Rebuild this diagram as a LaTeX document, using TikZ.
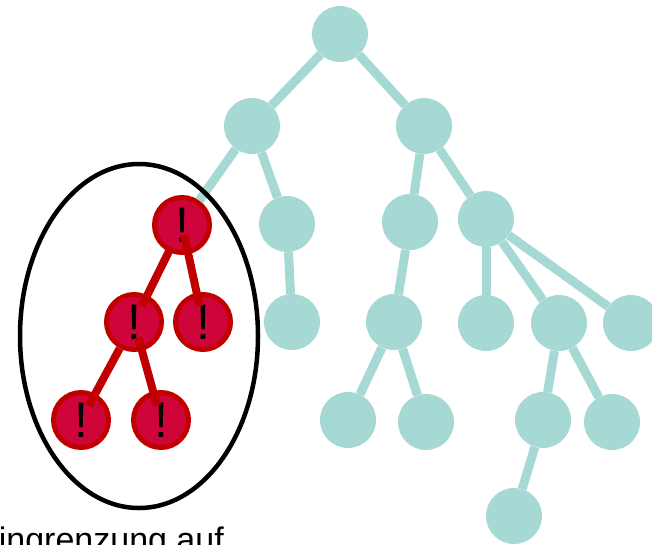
\documentclass[tikz,border=0pt]{standalone}
\usepackage{fontspec}
\setmainfont{Liberation Sans}
\definecolor{teal}{HTML}{A6D8D4}
\definecolor{alarm}{HTML}{CF043A}
\definecolor{alarmline}{HTML}{C00000}
\tikzset{
  knot/.style={circle, fill=teal, minimum size=56pt, inner sep=0pt},
  badknot/.style={circle, fill=alarm, draw=alarmline, line width=5pt, minimum size=55pt, inner sep=0pt, font=\fontsize{50}{50}\selectfont},
  twig/.style={draw=teal, line width=9pt},
  badtwig/.style={draw=alarmline, line width=8pt}
}
\begin{document}
\begin{tikzpicture}[x=1pt,y=-1pt]
\useasboundingbox (0,0) rectangle (652,544);

\node[knot] (root) at (340,34) {};
\node[knot] (l) at (252,126) {};
\node[knot] (r) at (424,126) {};
\node[knot] (lr) at (287,224) {};
\node[knot] (rl) at (410,222) {};
\node[knot] (rr) at (486,219) {};
\node[knot] (lrl) at (292,322) {};
\node[knot] (rll) at (394,322) {};
\node[knot] (rra) at (486,323) {};
\node[knot] (rrb) at (559,323) {};
\node[knot] (rrc) at (631,323) {};
\node[knot] (rlll) at (348,420) {};
\node[knot] (rllr) at (426,422) {};
\node[knot] (rrbl) at (543,420) {};
\node[knot] (rrbr) at (612,422) {};
\node[knot] (rrbll) at (514,516) {};

\node[badknot] (a) at (182,225) {!};
\node[badknot] (b) at (134,322) {!};
\node[badknot] (c) at (203,322) {!};
\node[badknot] (d) at (81,420) {!};
\node[badknot] (e) at (161,420) {!};

% teal edges, boundary to boundary
\path[twig] (root) -- (l);
\path[twig] (root) -- (r);
\path[twig] (l) -- (a);
\path[twig] (l) -- (lr);
\path[twig] (r) -- (rl);
\path[twig] (r) -- (rr);
\path[twig] (lr) -- (lrl);
\path[twig] (rl) -- (rll);
\path[twig] (rr) -- (rra);
\path[twig] (rr) -- (rrb);
\path[twig] (rr) -- (rrc);
\path[twig] (rll) -- (rlll);
\path[twig] (rll) -- (rllr);
\path[twig] (rrb) -- (rrbl);
\path[twig] (rrb) -- (rrbr);
\path[twig] (rrbl) -- (rrbll);

% red edges on top, reaching into the nodes
\path[badtwig, shorten <=-2pt, shorten >=-12pt] (a) -- (b);
\path[badtwig, shorten <=-20pt, shorten >=-14pt] (a) -- (c);
\path[badtwig, shorten <=0pt, shorten >=-14pt] (b) -- (d);
\path[badtwig, shorten <=-14pt, shorten >=-15pt] (b) -- (e);

\draw[line width=4.5pt] (139,336) ellipse [x radius=119, y radius=172];

\node[anchor=base west, inner sep=0pt, font=\fontsize{34}{40}\selectfont] (cap) at (-24,551) {Eingrenzung auf};
\end{tikzpicture}
\end{document}
